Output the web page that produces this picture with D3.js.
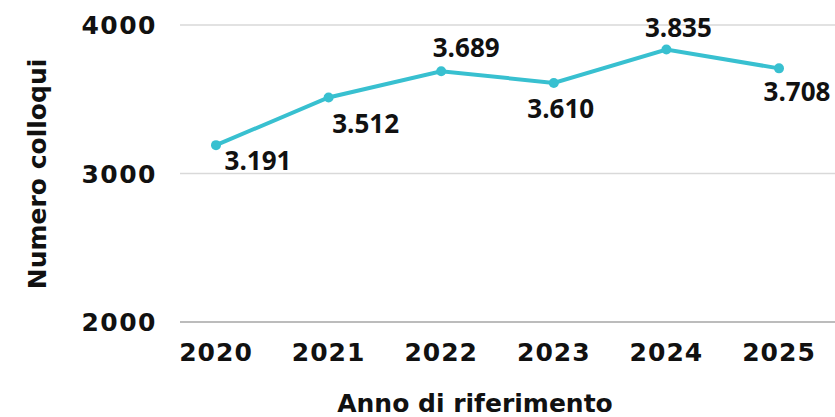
<!DOCTYPE html>
<html>
<head>
<meta charset="utf-8">
<script src="https://cdn.jsdelivr.net/npm/d3@7"></script>
<style>
  body { margin: 0; background: #fff; }
  svg text { fill: #111; }
</style>
</head>
<body>
<div id="chart"></div>
<script>
const years = ['2020', '2021', '2022', '2023', '2024', '2025'];
const colloqui = [3191, 3512, 3689, 3610, 3835, 3708];
const yTicks = [2000, 3000, 4000];

const width = 835, height = 417;

const svg = d3.select('#chart').append('svg')
    .attr('width', width)
    .attr('height', height);

const x = d3.scalePoint()
    .domain(years)
    .range([216, 779]);

const y = d3.scaleLinear()
    .domain([2000, 4000])
    .range([322, 25]);

// italian number format: 3.191
const it = d3.formatLocale({decimal: ',', thousands: '.', grouping: [3], currency: ['€', '']});
const fmt = it.format(',d');

// grid lines
svg.append('g').selectAll('line')
    .data(yTicks)
    .enter()
    .append('line')
    .attr('x1', 180)
    .attr('x2', width)
    .attr('y1', d => y(d))
    .attr('y2', d => y(d))
    .attr('stroke', d => d === 2000 ? '#a6a6a6' : '#d9d9d9')
    .attr('stroke-width', 1.5);

// y tick labels
svg.append('g').selectAll('text')
    .data(yTicks)
    .enter()
    .append('text')
    .attr('x', 157)
    .attr('y', d => y(d))
    .attr('dy', '0.36em')
    .attr('text-anchor', 'end')
    .style('font-family', 'DejaVu Sans')
    .style('font-weight', 700)
    .style('font-size', '25px')
    .style('letter-spacing', '1.5px')
    .text(d => d);

// x tick labels
svg.append('g').selectAll('text')
    .data(years)
    .enter()
    .append('text')
    .attr('x', d => x(d))
    .attr('y', 361)
    .attr('text-anchor', 'middle')
    .style('font-family', 'DejaVu Sans')
    .style('font-weight', 700)
    .style('font-size', '25px')
    .style('letter-spacing', '1px')
    .text(d => d);

// axis titles
svg.append('text')
    .attr('x', 475)
    .attr('y', 412)
    .attr('text-anchor', 'middle')
    .style('font-family', 'DejaVu Sans')
    .style('font-weight', 700)
    .style('font-size', '25px')
    .text('Anno di riferimento');

svg.append('text')
    .attr('transform', 'translate(46,174) rotate(-90)')
    .attr('text-anchor', 'middle')
    .style('font-family', 'DejaVu Sans')
    .style('font-weight', 700)
    .style('font-size', '25px')
    .text('Numero colloqui');

// line
const line = d3.line()
    .x((d, i) => x(years[i]))
    .y(d => y(d));

svg.append('path')
    .datum(colloqui)
    .attr('d', line)
    .attr('fill', 'none')
    .attr('stroke', '#38c0d0')
    .attr('stroke-width', 4);

svg.append('g').selectAll('circle')
    .data(colloqui)
    .enter()
    .append('circle')
    .attr('cx', (d, i) => x(years[i]))
    .attr('cy', d => y(d))
    .attr('r', 5)
    .attr('fill', '#38c0d0');

// data labels, placed around the points like in the original
const labelDx = [42, 37, 25, 7, 12, 18];
const labelDy = [25, 36, -14, 35, -13, 33];

svg.append('g').selectAll('text')
    .data(colloqui)
    .enter()
    .append('text')
    .attr('x', (d, i) => x(years[i]) + labelDx[i])
    .attr('y', (d, i) => y(d) + labelDy[i])
    .attr('text-anchor', 'middle')
    .style('font-family', 'Open Sans')
    .style('font-weight', 700)
    .style('font-size', '26px')
    .text(d => fmt(d));
</script>
</body>
</html>
